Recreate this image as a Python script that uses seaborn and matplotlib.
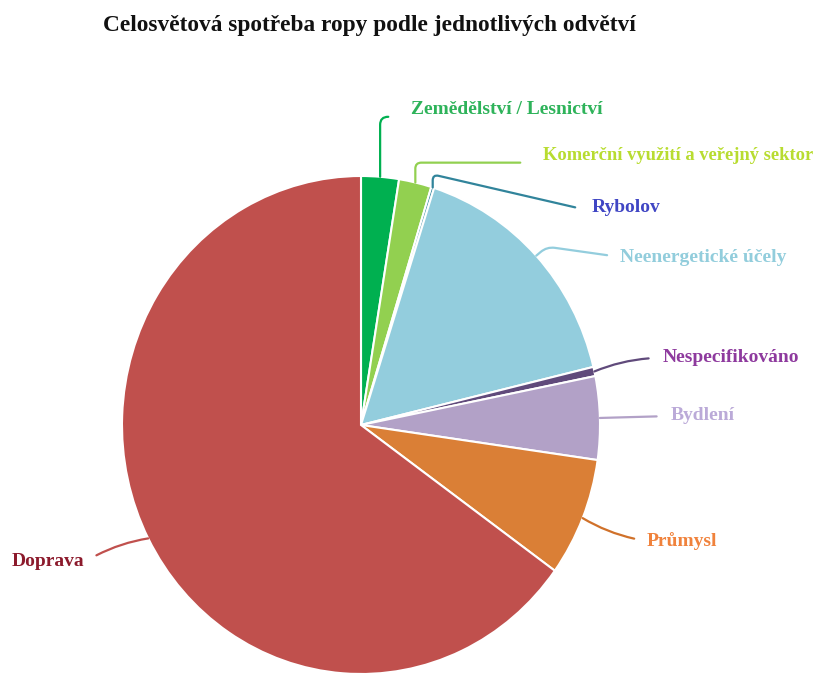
import matplotlib
matplotlib.use("Agg")
import matplotlib.pyplot as plt
import seaborn as sns
import numpy as np

# data (shares in %)
sectors = ["Zemědělství / Lesnictví", "Komerční využití a veřejný sektor", "Rybolov",
           "Neenergetické účely", "Nespecifikováno", "Bydlení", "Průmysl", "Doprava"]
shares = [2.55, 2.2, 0.2, 16.3, 0.6, 5.4, 7.7, 65.05]
wedge_colors = ["#00B050", "#92D050", "#31859C", "#93CDDD", "#604A7B", "#B2A1C7", "#DA7F36", "#C0504D"]
label_colors = ["#2EB35A", "#B8DC30", "#4046C4", "#92CDDC", "#8E3A9E", "#BBAAD8", "#F0823C", "#8C1A2C"]
line_colors = ["#00B050", "#92D050", "#31849B", "#93CDDD", "#604A7B", "#B2A1C7", "#D0712A", "#C0504D"]

sns.set_theme(style="white")
plt.rcParams["font.family"] = ["Liberation Serif", "DejaVu Serif"]

W, H = 822, 673
fig = plt.figure(figsize=(W / 100, H / 100), dpi=100)
fig.patch.set_facecolor("white")

# pie placement (slightly taller than wide, like the reference)
cx, cy, rx, ry = 361, 425, 239, 249
pad = 1.05
ax = fig.add_axes([(cx - rx * pad) / W, (H - cy - ry * pad) / H, 2 * rx * pad / W, 2 * ry * pad / H])
wedges, _ = ax.pie(shares, colors=wedge_colors, startangle=90, counterclock=False,
                   wedgeprops=dict(edgecolor="white", linewidth=1.5))
ax.set_xlim(-pad, pad)
ax.set_ylim(-pad, pad)
ax.set_aspect("auto")
ax.axis("off")

# label layout: text anchor in image pixels (x, y from top)
text_pos = [(411, 110), (543, 155), (592, 207), (620, 257), (663, 357), (671, 416), (647, 541), (12, 562)]
text_size = [14, 13.3, 14, 14, 14, 14, 14, 14]
leader = [
    dict(connectionstyle="angle,angleA=180,angleB=90,rad=8", relpos=(0, 0.1), shrinkA=14),
    dict(connectionstyle="angle,angleA=180,angleB=90,rad=6", relpos=(0, 0.05), shrinkA=14),
    dict(connectionstyle="angle,angleA=167,angleB=90,rad=6", relpos=(0, 0.25), shrinkA=10),
    dict(connectionstyle="angle,angleA=172,angleB=40,rad=8", relpos=(0, 0.5), shrinkA=7),
    dict(connectionstyle="arc3,rad=0.1", relpos=(0, 0.45), shrinkA=8),
    dict(connectionstyle="arc3,rad=0", relpos=(0, 0.5), shrinkA=8),
    dict(connectionstyle="arc3,rad=-0.1", relpos=(0, 0.5), shrinkA=7),
    dict(connectionstyle="arc3,rad=-0.1", relpos=(1, 0.5), shrinkA=7),
]

for w, name, tc, lc, (tx, ty), fs, lp in zip(wedges, sectors, label_colors, line_colors,
                                              text_pos, text_size, leader):
    mid = np.deg2rad((w.theta1 + w.theta2) / 2)
    px, py = np.cos(mid) * w.r, np.sin(mid) * w.r
    ax.annotate(name, xy=(px, py), xycoords="data",
                xytext=(tx, H - ty), textcoords="figure pixels",
                ha="left", va="center", fontsize=fs, fontweight="bold", color=tc,
                annotation_clip=False,
                arrowprops=dict(arrowstyle="-", color=lc, lw=1.6, shrinkB=0,
                                connectionstyle=lp["connectionstyle"],
                                relpos=lp["relpos"], shrinkA=lp["shrinkA"]))

fig.text(103 / W, 1 - 25 / H, "Celosvětová spotřeba ropy podle jednotlivých odvětví",
         ha="left", va="center", fontsize=16.8, fontweight="bold", color="#111111")

fig.savefig("out.png", dpi=100, facecolor="white")
